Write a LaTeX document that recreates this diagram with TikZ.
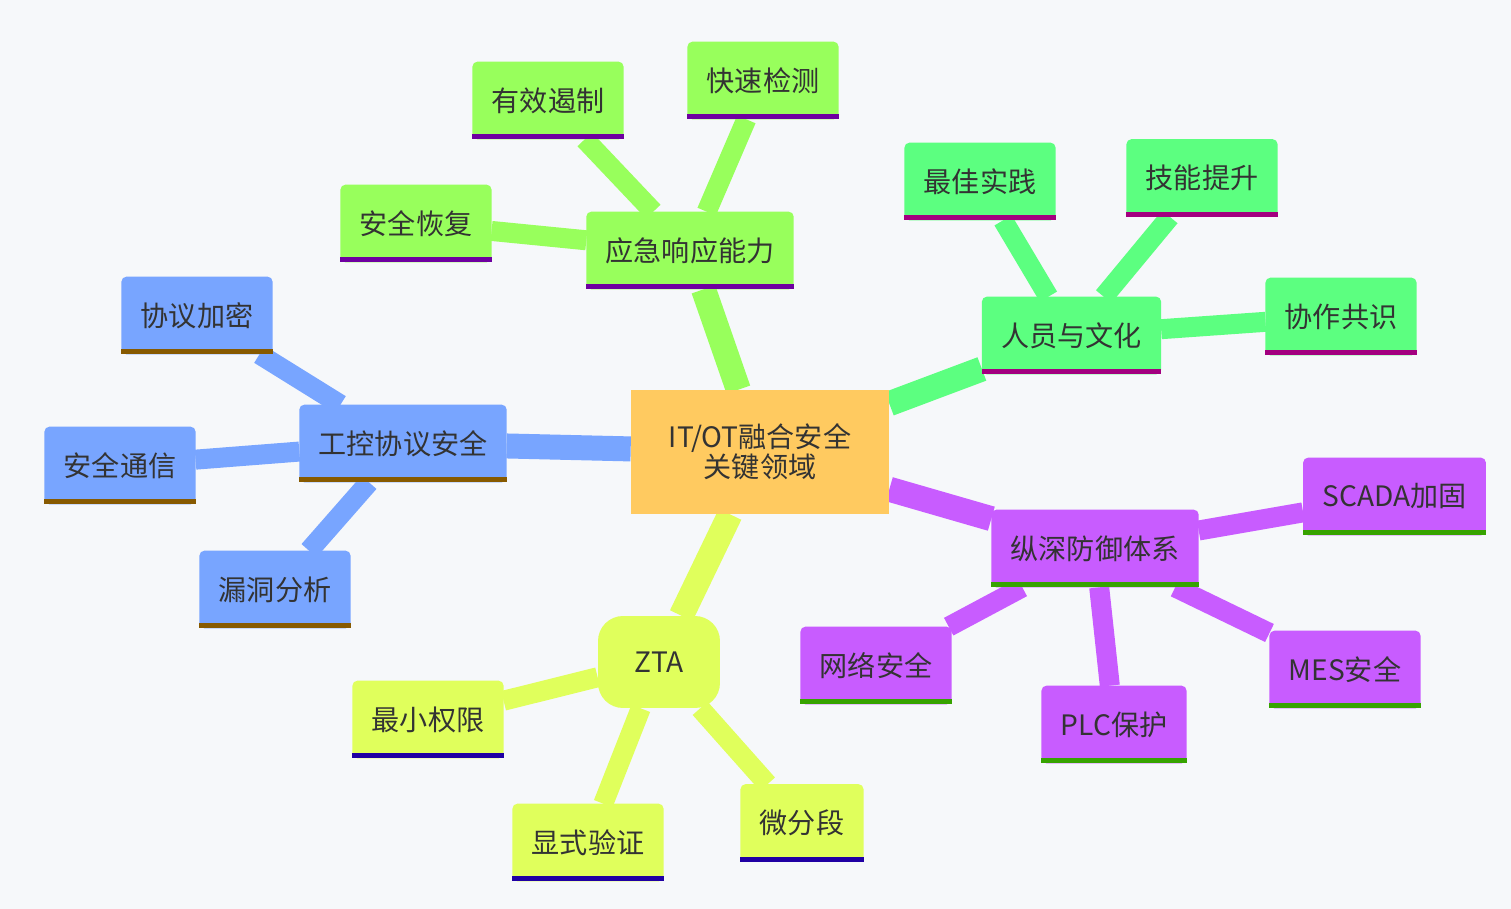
\documentclass[tikz,border=0pt]{standalone}
\usepackage{fontspec}
\setmainfont{Noto Sans CJK SC}
\usepackage{xcolor}
\usetikzlibrary{backgrounds}

\definecolor{paper}{HTML}{F6F8FA}
\definecolor{ink}{HTML}{333333}
\definecolor{rootc}{HTML}{FFCA60}
\definecolor{secB}{HTML}{78A5FF}
\definecolor{barB}{HTML}{875A00}
\definecolor{secG}{HTML}{98FF5C}
\definecolor{barG}{HTML}{6E00A0}
\definecolor{secT}{HTML}{5CFF80}
\definecolor{barT}{HTML}{A3007F}
\definecolor{secP}{HTML}{C85CFF}
\definecolor{barP}{HTML}{37A300}
\definecolor{secY}{HTML}{E0FF5C}
\definecolor{barY}{HTML}{1F00A3}

\newcommand{\mmfont}{\fontsize{16pt}{17pt}\selectfont}

\begin{document}
\begin{tikzpicture}[x=0.02cm, y=-0.02cm,
  card/.style 2 args={append after command={\pgfextra{
      \fill[#1, rounded corners=0.1cm] (\tikzlastnode.south west) rectangle (\tikzlastnode.north east);
      \fill[#2, sharp corners] (\tikzlastnode.south west) rectangle ([yshift=0.1cm]\tikzlastnode.south east);}}},
  box/.style={rectangle, font=\mmfont, text=ink,
              inner xsep=0.38cm, inner ysep=0pt, minimum height=1.54cm},
  bbox/.style={box, card={secB}{barB}},
  gbox/.style={box, card={secG}{barG}},
  tbox/.style={box, card={secT}{barT}},
  pbox/.style={box, card={secP}{barP}},
  ybox/.style={box, card={secY}{barY}},
  root/.style={rectangle, fill=rootc, font=\mmfont, text=ink, align=center,
               minimum width=5.16cm, minimum height=2.48cm},
  hub/.style={rectangle, rounded corners=0.5cm, fill=secY, font=\mmfont, text=ink,
              minimum width=2.44cm, minimum height=1.84cm},
  trunk/.style={draw=#1, line width=0.5cm},
  twig/.style={draw=#1, line width=0.4cm}
]
% centre
\node[root] (core) at (760,452) {IT/OT融合安全\\关键领域};
% protocol security
\node[bbox] (gkxy) at (403,443.5) {工控协议安全};
\node[bbox] (xyjm) at (197,315.5) {协议加密};
\node[bbox] (aqtx) at (120,465.5) {安全通信};
\node[bbox] (ldfx) at (275,589.5) {漏洞分析};
% emergency response
\node[gbox] (yjxy) at (690,250.5) {应急响应能力};
\node[gbox] (aqhf) at (416,223.5) {安全恢复};
\node[gbox] (yxez) at (548,100.5) {有效遏制};
\node[gbox] (ksjc) at (763,80.5)  {快速检测};
% people and culture
\node[tbox] (rywh) at (1071.5,335.5) {人员与文化};
\node[tbox] (zjsj) at (980,181.5)    {最佳实践};
\node[tbox] (jnts) at (1202,178)     {技能提升};
\node[tbox] (xzgs) at (1341,316.5)   {协作共识};
% defence in depth
\node[pbox] (zsfy)  at (1095,548.5)   {纵深防御体系};
\node[pbox] (scada) at (1394.5,496.5) {SCADA加固};
\node[pbox] (wlaq)  at (876,665.5)    {网络安全};
\node[pbox] (plc)   at (1114,724.5)   {PLC保护};
\node[pbox] (mes)   at (1345,669.5)   {MES安全};
% zero trust
\node[hub]  (zta)  at (659,662)   {ZTA};
\node[ybox] (zxqx) at (428,719.5) {最小权限};
\node[ybox] (xsyz) at (588,842.5) {显式验证};
\node[ybox] (wfd)  at (802,823)   {微分段};

\begin{scope}[on background layer]
\useasboundingbox[fill=paper] (0,0) rectangle (1511,909);
\draw[trunk=secB] (core) -- (gkxy);
\draw[trunk=secG] (core) -- (yjxy);
\draw[trunk=secT] (core) -- (rywh);
\draw[trunk=secP] (core) -- (zsfy);
\draw[trunk=secY] (core) -- (zta);
\foreach \n in {xyjm,aqtx,ldfx} \draw[twig=secB] (gkxy) -- (\n);
\foreach \n in {aqhf,yxez,ksjc} \draw[twig=secG] (yjxy) -- (\n);
\foreach \n in {zjsj,jnts,xzgs} \draw[twig=secT] (rywh) -- (\n);
\foreach \n in {scada,wlaq,plc,mes} \draw[twig=secP] (zsfy) -- (\n);
\foreach \n in {zxqx,xsyz,wfd} \draw[twig=secY] (zta) -- (\n);
\end{scope}
\end{tikzpicture}
\end{document}
